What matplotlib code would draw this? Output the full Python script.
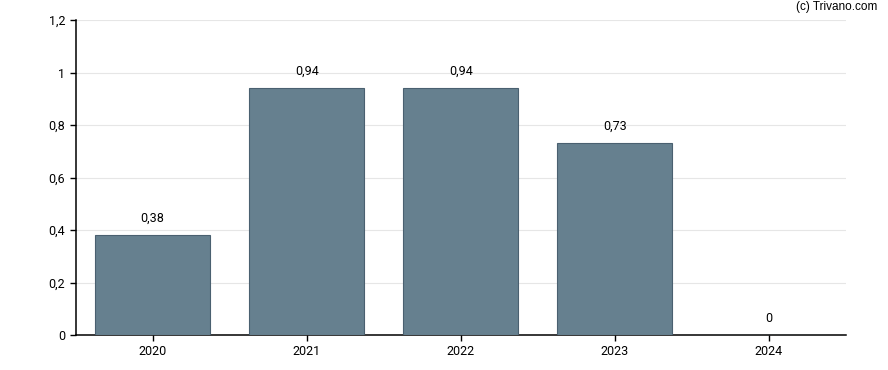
import matplotlib
matplotlib.use("Agg")
import matplotlib.pyplot as plt

years = ["2020", "2021", "2022", "2023", "2024"]
values = [0.38, 0.94, 0.94, 0.73, 0.0]
labels = ["0,38", "0,94", "0,94", "0,73", "0"]
yticks = [0, 0.2, 0.4, 0.6, 0.8, 1.0, 1.2]
yticklabels = ["0", "0,2", "0,4", "0,6", "0,8", "1", "1,2"]

plt.rcParams['font.family'] = ['Roboto', 'DejaVu Sans']
fig = plt.figure(figsize=(8.88, 3.70), dpi=100)
ax = fig.add_axes([75.5/888, 35/370, (846-75.5)/888, 315/370])
x = list(range(len(years)))
ax.bar(x, values, width=0.745, color="#66808f", edgecolor="#4a6070", linewidth=0.8, zorder=3)
for xi, v, l in zip(x, values, labels):
    ax.annotate(l, (xi, v), xytext=(0, 7.5), textcoords="offset points",
                ha="center", va="bottom", fontsize=9, color="#000000")
ax.set_xlim(-0.5, len(years) - 0.5)
ax.set_ylim(0, 1.2)
ax.set_yticks(yticks)
ax.set_yticklabels(yticklabels)
ax.set_xticks(x)
ax.set_xticklabels(years)
ax.grid(axis="y", color="#e6e6e6", linewidth=0.8, zorder=0)
for s in ["top", "right"]:
    ax.spines[s].set_visible(False)
for s in ["left", "bottom"]:
    ax.spines[s].set_color("#000000")
    ax.spines[s].set_linewidth(1.1)
ax.tick_params(axis="both", length=4, width=1, labelsize=9, colors="#000000")
fig.text(877/888, 1 - 7/370, "(c) Trivano.com", ha="right", va="center", fontsize=8.5,
         color="#000000", family=["Liberation Sans", "DejaVu Sans"])
fig.savefig("out.png", dpi=100)
